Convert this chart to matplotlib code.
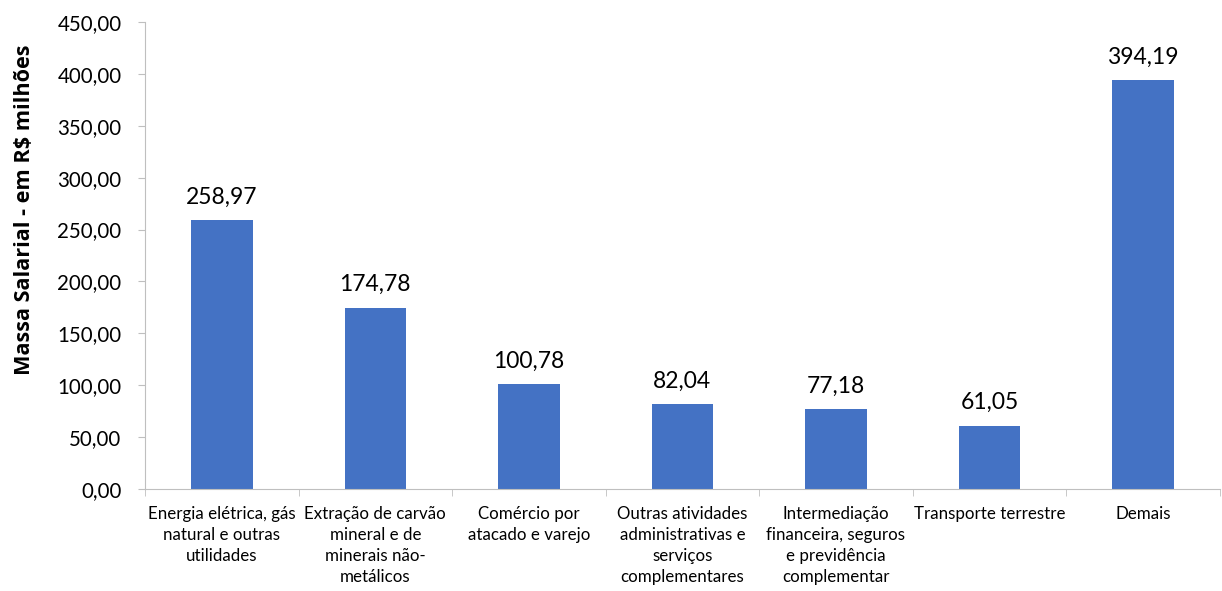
import numpy as np
import matplotlib.pyplot as plt
from matplotlib.ticker import FuncFormatter, FixedLocator

plt.rcParams['font.family'] = ['Lato', 'DejaVu Sans']

# Data
categorias = [
    'Energia elétrica, gás\nnatural e outras\nutilidades',
    'Extração de carvão\nmineral e de\nminerais não-\nmetálicos',
    'Comércio por\natacado e varejo',
    'Outras atividades\nadministrativas e\nserviços\ncomplementares',
    'Intermediação\nfinanceira, seguros\ne previdência\ncomplementar',
    'Transporte terrestre',
    'Demais',
]
valores = [258.97, 174.78, 100.78, 82.04, 77.18, 61.05, 394.19]

cor_barra = '#4472C4'
cor_eixo = '#BFBFBF'

fig = plt.figure(figsize=(12.22, 5.91), dpi=100)
ax = fig.add_axes([0.1187, 0.1726, 0.8795, 0.7902])

x = np.arange(len(categorias))
ax.bar(x, valores, width=0.40, color=cor_barra)

for xi, v in zip(x, valores):
    ax.text(xi, v + 12, f'{v:.2f}'.replace('.', ','), ha='center', va='bottom',
            fontsize=16.5)

ax.set_xlim(-0.5, len(categorias) - 0.5)
ax.set_ylim(0, 450)
ax.set_yticks(np.arange(0, 451, 50))
ax.yaxis.set_major_formatter(FuncFormatter(lambda v, p: f'{v:.2f}'.replace('.', ',')))
ax.tick_params(axis='y', labelsize=14.8, length=5, color=cor_eixo, pad=12)

# category labels centred, ticks at the boundaries
ax.set_xticks(x)
ax.set_xticklabels(categorias, fontsize=12.2, linespacing=1.4)
ax.tick_params(axis='x', which='major', length=0, pad=12)
ax.xaxis.set_minor_locator(FixedLocator(np.arange(-0.5, len(categorias), 1.0)))
ax.tick_params(axis='x', which='minor', length=5, color=cor_eixo)

ax.set_ylabel('Massa Salarial - em R$ milhões', fontsize=15.6, fontweight='bold',
              family=['Open Sans', 'DejaVu Sans'])
ax.yaxis.set_label_coords(-0.102, 0.597)

for s in ['top', 'right']:
    ax.spines[s].set_visible(False)
for s in ['left', 'bottom']:
    ax.spines[s].set_color(cor_eixo)

fig.savefig('out.png', dpi=100)
